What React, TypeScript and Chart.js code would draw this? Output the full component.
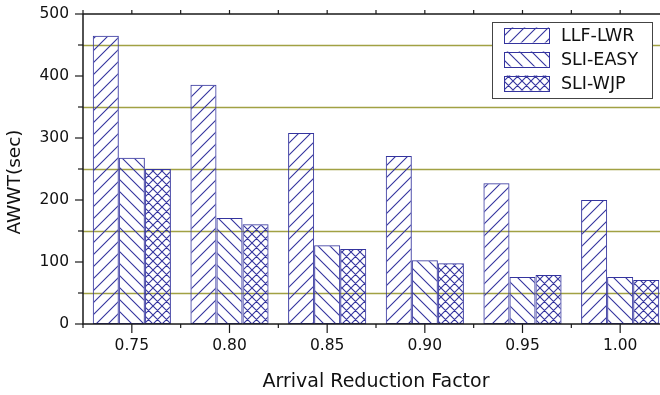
import React, { useEffect, useRef } from "react";
import { Chart, registerables } from "chart.js";

Chart.register(...registerables);

const categories = ["0.75", "0.80", "0.85", "0.90", "0.95", "1.00"];
const seriesNames = ["LLF-LWR", "SLI-EASY", "SLI-WJP"];
const llfLwr = [465, 386, 308, 271, 227, 200];
const sliEasy = [268, 171, 127, 103, 76, 76];
const sliWjp = [250, 161, 121, 98, 79, 71];
const yMajorTicks = [0, 100, 200, 300, 400, 500];
const yGridValues = [50, 150, 250, 350, 450];
const yTitle = "AWWT(sec)";
const xTitle = "Arrival Reduction Factor";

const BLUE = "#34349e";
const FONT = "'DejaVu Sans', Verdana, sans-serif";

function makePattern(kind: string): CanvasPattern | string {
  const size = kind === "cross" ? 9 : 12;
  const c = document.createElement("canvas");
  c.width = size;
  c.height = size;
  const g = c.getContext("2d")!;
  g.strokeStyle = BLUE;
  g.lineWidth = 1.1;
  g.beginPath();
  if (kind === "fwd" || kind === "cross") {
    g.moveTo(-1, size + 1);
    g.lineTo(size + 1, -1);
    g.moveTo(-2, 2);
    g.lineTo(2, -2);
    g.moveTo(size - 2, size + 2);
    g.lineTo(size + 2, size - 2);
  }
  if (kind === "back" || kind === "cross") {
    g.moveTo(-1, -1);
    g.lineTo(size + 1, size + 1);
    g.moveTo(size - 2, -2);
    g.lineTo(size + 2, 2);
    g.moveTo(-2, size - 2);
    g.lineTo(2, size + 2);
  }
  g.stroke();
  const p = g.createPattern(c, "repeat");
  return p || BLUE;
}

const axesPlugin = {
  id: "customAxes",
  beforeDatasetsDraw(chart: any) {
    const { ctx, chartArea, scales } = chart;
    const y = scales.y;
    ctx.save();
    ctx.strokeStyle = "rgba(138,138,20,0.8)";
    ctx.lineWidth = 1.5;
    yGridValues.forEach((v) => {
      const py = Math.round(y.getPixelForValue(v)) + 0.5;
      ctx.beginPath();
      ctx.moveTo(chartArea.left, py);
      ctx.lineTo(chartArea.right, py);
      ctx.stroke();
    });
    ctx.restore();
  },
  afterDatasetsDraw(chart: any) {
    const { ctx, chartArea, scales } = chart;
    const x = scales.x;
    const y = scales.y;
    const L = chartArea.left;
    const B = chartArea.bottom;
    const T = chartArea.top;
    ctx.save();
    ctx.strokeStyle = "#1a1a1a";
    ctx.lineWidth = 1.5;
    ctx.beginPath();
    ctx.moveTo(L, T);
    ctx.lineTo(L, B);
    ctx.lineTo(chartArea.right, B);
    ctx.moveTo(L, T);
    ctx.lineTo(chartArea.right, T);
    ctx.stroke();
    ctx.lineWidth = 1.2;
    yMajorTicks.forEach((v) => {
      const py = y.getPixelForValue(v);
      ctx.beginPath();
      ctx.moveTo(L - 8, py);
      ctx.lineTo(L, py);
      ctx.stroke();
    });
    yGridValues.forEach((v) => {
      const py = y.getPixelForValue(v);
      ctx.beginPath();
      ctx.moveTo(L - 5, py);
      ctx.lineTo(L, py);
      ctx.stroke();
    });
    const n = categories.length;
    for (let i = 0; i < n; i++) {
      const px = x.getPixelForValue(i);
      ctx.beginPath();
      ctx.moveTo(px, B);
      ctx.lineTo(px, B + 9);
      ctx.moveTo(px, T);
      ctx.lineTo(px, T - 4);
      ctx.stroke();
    }
    for (let i = 0; i <= n; i++) {
      const px = x.getPixelForValue(i - 0.5);
      ctx.beginPath();
      ctx.moveTo(px, B);
      ctx.lineTo(px, B + 4);
      ctx.moveTo(px, T);
      ctx.lineTo(px, T - 4);
      ctx.stroke();
    }
    ctx.restore();
  },
  afterDraw(chart: any) {
    const { ctx, chartArea } = chart;
    ctx.save();
    // y-axis title
    ctx.translate(15, (chartArea.top + chartArea.bottom) / 2 + 13);
    ctx.rotate(-Math.PI / 2);
    ctx.fillStyle = "#111";
    ctx.font = `18.5px ${FONT}`;
    ctx.textAlign = "center";
    ctx.textBaseline = "middle";
    ctx.fillText(yTitle, 0, 0);
    ctx.restore();

    const bx = 492;
    const by = 22;
    const bw = 160;
    const bh = 76;
    ctx.save();
    ctx.fillStyle = "#ffffff";
    ctx.fillRect(bx, by, bw, bh);
    ctx.strokeStyle = "#444";
    ctx.lineWidth = 1;
    ctx.strokeRect(bx + 0.5, by + 0.5, bw, bh);
    chart.data.datasets.forEach((ds: any, i: number) => {
      const cy = by + 13 + i * 24;
      const sx = 504;
      const sw = 45;
      const sh = 15;
      ctx.fillStyle = ds.backgroundColor;
      ctx.fillRect(sx, cy - sh / 2, sw, sh);
      ctx.strokeStyle = BLUE;
      ctx.lineWidth = 1;
      ctx.strokeRect(sx + 0.5, Math.round(cy - sh / 2) + 0.5, sw, sh);
      ctx.fillStyle = "#111";
      ctx.font = `17.5px ${FONT}`;
      ctx.textBaseline = "middle";
      ctx.textAlign = "left";
      ctx.fillText(ds.label, 561, cy + 1);
    });
    ctx.restore();
  },
};

export default function App() {
  const ref = useRef<HTMLCanvasElement | null>(null);
  useEffect(() => {
    const canvas = ref.current!;
    const ctx = canvas.getContext("2d")!;
    const kinds = ["fwd", "back", "cross"];
    const values = [llfLwr, sliEasy, sliWjp];
    const chart = new Chart(ctx, {
      type: "bar",
      data: {
        labels: categories,
        datasets: seriesNames.map((name, i) => ({
          label: name,
          data: values[i],
          backgroundColor: makePattern(kinds[i]) as any,
          borderColor: BLUE,
          borderWidth: 1,
          borderSkipped: false,
          categoryPercentage: 0.8,
          barPercentage: 1.0,
        })),
      },
      options: {
        responsive: false,
        animation: false,
        devicePixelRatio: 1,
        layout: { padding: { top: 14, right: 6, left: 0, bottom: 0 } },
        plugins: {
          legend: { display: false },
          tooltip: { enabled: false },
        },
        scales: {
          x: {
            grid: { display: false, drawTicks: false },
            border: { display: false },
            ticks: {
              color: "#111",
              font: { family: FONT, size: 15.5 },
              padding: 13,
              maxRotation: 0,
            },
            title: {
              display: true,
              text: xTitle,
              color: "#111",
              font: { family: FONT, size: 19 },
              padding: { top: 4, bottom: 2 },
            },
            afterFit: (s: any) => {
              s.height = 71;
              s.paddingLeft = 0;
              s.paddingRight = 0;
            },
          },
          y: {
            min: 0,
            max: 500,
            grid: { display: false, drawTicks: false },
            border: { display: false },
            ticks: {
              stepSize: 100,
              color: "#111",
              font: { family: FONT, size: 15.5 },
              padding: 14,
            },
            title: { display: false },
            afterFit: (s: any) => {
              s.width = 83;
              s.paddingTop = 0;
              s.paddingBottom = 0;
            },
          },
        },
      },
      plugins: [axesPlugin],
    });
    return () => chart.destroy();
  }, []);
  return (
    <div
      style={{
        position: "fixed",
        left: 0,
        top: 0,
        width: 660,
        height: 395,
        overflow: "hidden",
        background: "#fff",
      }}
    >
      <canvas ref={ref} width={675} height={395} style={{ display: "block" }} />
    </div>
  );
}
